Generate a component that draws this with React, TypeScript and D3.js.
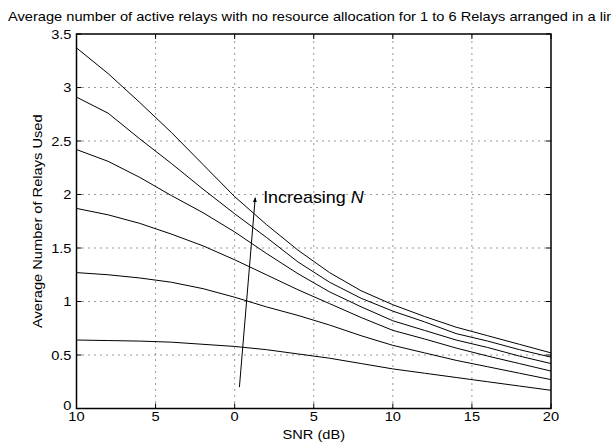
import { useEffect, useRef } from "react";
import * as d3 from "d3";

// SNR grid (dB) and average number of relays used, N = 1..6
const snr = [-10, -8, -6, -4, -2, 0, 2, 4, 6, 8, 10, 12, 14, 16, 18, 20];
const n1 = [0.64, 0.635, 0.63, 0.62, 0.60, 0.58, 0.55, 0.51, 0.47, 0.42, 0.37, 0.33, 0.29, 0.25, 0.21, 0.17];
const n2 = [1.27, 1.25, 1.22, 1.18, 1.12, 1.04, 0.95, 0.87, 0.78, 0.68, 0.59, 0.52, 0.45, 0.39, 0.33, 0.27];
const n3 = [1.87, 1.81, 1.73, 1.63, 1.52, 1.39, 1.25, 1.11, 0.98, 0.85, 0.73, 0.65, 0.565, 0.49, 0.42, 0.35];
const n4 = [2.42, 2.31, 2.16, 1.99, 1.83, 1.65, 1.45, 1.26, 1.09, 0.95, 0.82, 0.73, 0.64, 0.57, 0.49, 0.42];
const n5 = [2.91, 2.76, 2.52, 2.29, 2.05, 1.82, 1.60, 1.37, 1.18, 1.03, 0.91, 0.81, 0.70, 0.63, 0.55, 0.48];
const n6 = [3.37, 3.13, 2.86, 2.58, 2.28, 1.98, 1.72, 1.48, 1.27, 1.10, 0.97, 0.86, 0.76, 0.68, 0.60, 0.52];
const series = [n1, n2, n3, n4, n5, n6];

const xTicks = [-10, -5, 0, 5, 10, 15, 20];
const yTicks = [0, 0.5, 1, 1.5, 2, 2.5, 3, 3.5];

// annotation arrow, data coords [snr, relays]
const arrowFrom = [0.3, 0.2];
const arrowTo = [1.3, 1.97];
const arrowText = [1.8, 1.92];

const title = "Average number of active relays with no resource allocation for 1 to 6 Relays arranged in a line";

export default function App() {
  const ref = useRef<SVGSVGElement>(null);

  useEffect(() => {
    const svg = d3.select(ref.current);
    svg.selectAll("*").remove();
    const font = "Liberation Sans, Arial, Helvetica, sans-serif";
    const stretch = 1.22;

    // text a bit wider than Arial, like the original export
    const label = (px: number, py: number, txt: string, anchor = "start", rot = 0, size = 12, sx = stretch) =>
      svg.append("g").attr("transform", `translate(${px},${py}) rotate(${rot}) scale(${sx},1)`)
        .append("text").attr("text-anchor", anchor)
        .attr("font-family", font).attr("font-size", size).text(txt);

    const x = d3.scaleLinear().domain([-10, 20]).range([76.5, 551]);
    const y = d3.scaleLinear().domain([0, 3.5]).range([408.5, 34]);
    const [x0, x1] = x.range();
    const [y0, y1] = y.range();

    const defs = svg.append("defs");
    defs.append("marker")
      .attr("id", "arrowhead")
      .attr("viewBox", "0 0 10 10")
      .attr("refX", 9).attr("refY", 5)
      .attr("markerWidth", 5).attr("markerHeight", 5)
      .attr("orient", "auto")
      .append("path").attr("d", "M0,1 L10,5 L0,9 z").attr("fill", "#000");

    // grid
    const grid = svg.append("g").attr("stroke", "#333").attr("stroke-width", 1)
      .attr("stroke-dasharray", "1 5");
    xTicks.slice(1, -1).forEach(t => {
      grid.append("line").attr("x1", x(t)).attr("x2", x(t)).attr("y1", y0).attr("y2", y1);
    });
    yTicks.slice(1, -1).forEach(t => {
      grid.append("line").attr("x1", x0).attr("x2", x1).attr("y1", y(t)).attr("y2", y(t));
    });

    // curves
    const line = d3.line<number>().x((_, i) => x(snr[i])).y(d => y(d));
    series.forEach(s => {
      svg.append("path").attr("d", line(s)).attr("fill", "none")
        .attr("stroke", "#000").attr("stroke-width", 1);
    });

    // box
    svg.append("rect").attr("x", x0).attr("y", y1).attr("width", x1 - x0).attr("height", y0 - y1)
      .attr("fill", "none").attr("stroke", "#000").attr("stroke-width", 1.5);

    // ticks inward
    const tk = svg.append("g").attr("stroke", "#000").attr("stroke-width", 1);
    xTicks.forEach(t => {
      tk.append("line").attr("x1", x(t)).attr("x2", x(t)).attr("y1", y0).attr("y2", y0 - 5);
      tk.append("line").attr("x1", x(t)).attr("x2", x(t)).attr("y1", y1).attr("y2", y1 + 5);
    });
    yTicks.forEach(t => {
      tk.append("line").attr("x1", x0).attr("x2", x0 + 5).attr("y1", y(t)).attr("y2", y(t));
      tk.append("line").attr("x1", x1).attr("x2", x1 - 5).attr("y1", y(t)).attr("y2", y(t));
    });

    // tick labels
    xTicks.forEach(t => label(x(t), y0 + 12.5, String(Math.abs(t)), "middle"));
    yTicks.forEach(t => label(x0 - 5, y(t) + 4.5 - (t === 0 ? 3 : 0), String(t), "end"));

    // axis labels
    label((x0 + x1) / 2, 438.5, "SNR (dB)", "middle");
    label(42, (y0 + y1) / 2, "Average Number of Relays Used", "middle", -90);

    // title
    label(8, 21, title);

    // annotation
    svg.append("line")
      .attr("x1", x(arrowFrom[0])).attr("y1", y(arrowFrom[1]))
      .attr("x2", x(arrowTo[0])).attr("y2", y(arrowTo[1]))
      .attr("stroke", "#000").attr("stroke-width", 1).attr("marker-end", "url(#arrowhead)");
    const ann = label(x(arrowText[0]), y(arrowText[1]), "", "start", 0, 16, 1.12);
    ann.append("tspan").text("Increasing ");
    ann.append("tspan").attr("font-style", "italic").text("N");
  }, []);

  return (
    <div style={{ position: "absolute", left: 0, top: 0 }}>
      <svg ref={ref} width={611} height={447} style={{ display: "block", background: "#fff" }} />
    </div>
  );
}
